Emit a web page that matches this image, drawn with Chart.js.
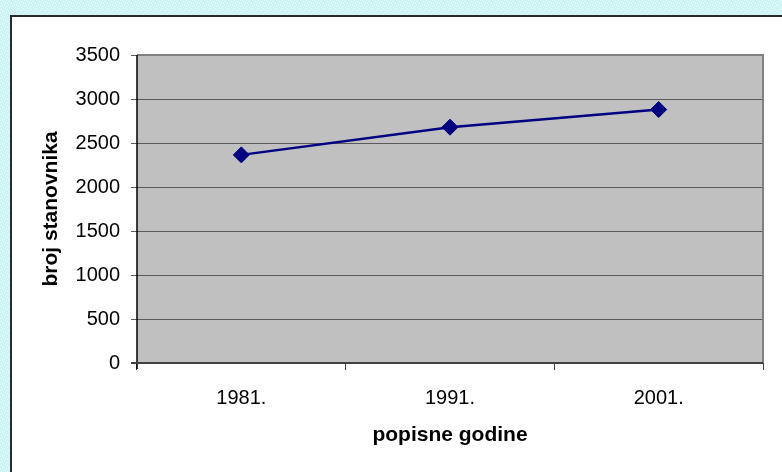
<!DOCTYPE html>
<html>
<head>
<meta charset="utf-8">
<script src="https://cdn.jsdelivr.net/npm/chart.js@4/dist/chart.umd.min.js"></script>
<style>
html,body{margin:0;padding:0;background:#fff;}
#wrap{position:relative;width:782px;height:472px;}
canvas{display:block;}
</style>
</head>
<body>
<div id="wrap"><canvas id="c" width="782" height="472"></canvas></div>
<script>
const categories = ['1981.', '1991.', '2001.'];
const population = [2365, 2680, 2880];
const yTicks = [0, 500, 1000, 1500, 2000, 2500, 3000, 3500];
const xTitle = 'popisne godine';
const yTitle = 'broj stanovnika';

function makePattern(ctx) {
  const p = document.createElement('canvas');
  p.width = 6; p.height = 6;
  const g = p.getContext('2d');
  g.fillStyle = '#cdf4f4';
  g.fillRect(0, 0, 6, 6);
  g.fillStyle = '#effcfc';
  [[0,0],[3,1],[1,3],[4,4],[2,5],[5,2]].forEach(([x,y]) => g.fillRect(x, y, 1, 1));
  return ctx.createPattern(p, 'repeat');
}

const bgPlugin = {
  id: 'bg',
  beforeDraw(chart) {
    const ctx = chart.ctx;
    const {left, top, right, bottom} = chart.chartArea;
    ctx.save();
    ctx.fillStyle = makePattern(ctx);
    ctx.fillRect(0, 0, chart.width, chart.height);
    ctx.fillStyle = '#ffffff';
    ctx.fillRect(11, 16, chart.width - 11, chart.height - 16);
    ctx.fillStyle = '#2a2a2a';
    ctx.fillRect(10, 15, 2, chart.height - 15);
    ctx.fillRect(10, 15, chart.width - 10, 2);
    ctx.fillStyle = '#c0c0c0';
    ctx.fillRect(left, top, right - left, bottom - top);
    ctx.restore();
  },
  beforeDatasetsDraw(chart) {
    const ctx = chart.ctx;
    const {left, top, right, bottom} = chart.chartArea;
    ctx.save();
    ctx.strokeStyle = '#808080';
    ctx.lineWidth = 2;
    ctx.beginPath();
    ctx.moveTo(left, top);
    ctx.lineTo(right, top);
    ctx.lineTo(right, bottom);
    ctx.stroke();
    ctx.strokeStyle = '#000000';
    ctx.lineWidth = 1.5;
    ctx.beginPath();
    ctx.moveTo(left, top);
    ctx.lineTo(left, bottom + 6);
    ctx.stroke();
    ctx.strokeStyle = '#404040';
    ctx.lineWidth = 2;
    ctx.beginPath();
    ctx.moveTo(left - 6, bottom);
    ctx.lineTo(right, bottom);
    ctx.stroke();
    ctx.restore();
  }
};

new Chart(document.getElementById('c'), {
  type: 'line',
  data: {
    labels: categories,
    datasets: [{
      data: population,
      borderColor: '#000080',
      backgroundColor: '#000080',
      borderWidth: 2.5,
      pointStyle: 'rectRot',
      pointRadius: 8,
      pointHoverRadius: 8,
      pointBorderWidth: 1,
      tension: 0,
      fill: false
    }]
  },
  options: {
    responsive: false,
    animation: false,
    devicePixelRatio: 1,
    layout: {padding: {left: 0, top: 55, right: 19, bottom: 0}},
    plugins: {legend: {display: false}, tooltip: {enabled: false}},
    scales: {
      x: {
        type: 'category',
        offset: true,
        grid: {offset: true, drawOnChartArea: false, drawTicks: true, tickLength: 7, color: '#404040', lineWidth: 1},
        border: {display: false},
        ticks: {color: '#000', font: {family: 'Liberation Sans, Arial, sans-serif', size: 20}, padding: 16, maxRotation: 0},
        title: {display: true, text: xTitle, color: '#000', font: {family: 'Liberation Sans, Arial, sans-serif', size: 21, weight: 'bold'}, padding: {top: 0, bottom: 24}},
        afterFit(scale) { scale.height = 472 - 363; }
      },
      y: {
        min: 0, max: 3500,
        afterBuildTicks(scale) { scale.ticks = yTicks.map(v => ({value: v})); },
        grid: {color: '#5a5a5a', lineWidth: 1, drawTicks: true, tickLength: 6},
        border: {display: false},
        ticks: {color: '#000', font: {family: 'Liberation Sans, Arial, sans-serif', size: 20}, padding: 11, callback: v => String(v)},
        title: {display: true, text: yTitle, color: '#000', font: {family: 'Liberation Sans, Arial, sans-serif', size: 21, weight: 'bold'}, padding: {top: 39, bottom: 0}},
        afterFit(scale) { scale.width = 137; }
      }
    }
  },
  plugins: [bgPlugin]
});
</script>
</body>
</html>
